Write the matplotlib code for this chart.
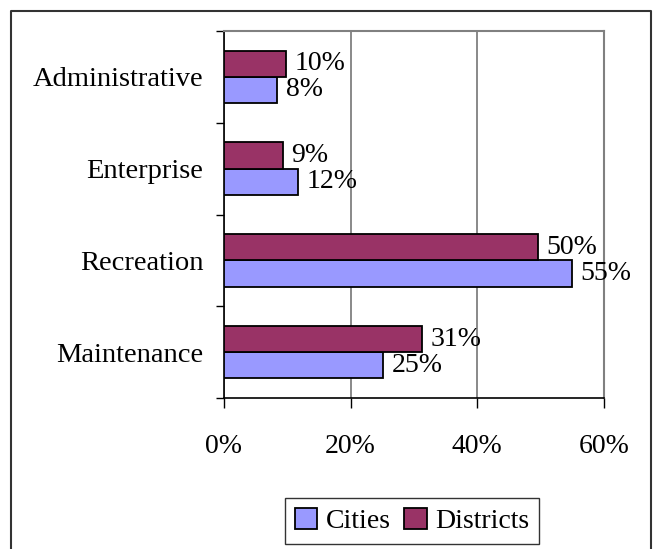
import numpy as np
import matplotlib.pyplot as plt
from matplotlib.lines import Line2D

plt.rcParams['font.family'] = ['Liberation Serif', 'DejaVu Serif']

categories = ["Maintenance", "Recreation", "Enterprise", "Administrative"]
cities = [25.1, 54.9, 11.7, 8.4]
districts = [31.3, 49.6, 9.3, 9.8]
xticks = [0, 20, 40, 60]

cities_color = "#9999FF"
districts_color = "#993366"

fig = plt.figure(figsize=(6.53, 5.49), dpi=100)
ax = fig.add_axes([0.343, 0.275, 0.582, 0.6685])

y = np.arange(len(categories))
h = 0.285
b1 = ax.barh(y - h / 2, cities, height=h, color=cities_color,
             edgecolor="black", linewidth=1.3, label="Cities", zorder=3)
b2 = ax.barh(y + h / 2, districts, height=h, color=districts_color,
             edgecolor="black", linewidth=1.3, label="Districts", zorder=3)

for bars, vals in [(b1, cities), (b2, districts)]:
    for bar, v in zip(bars, vals):
        ax.annotate(f"{v:.0f}%", (bar.get_width(), bar.get_y() + bar.get_height() / 2),
                    xytext=(6, 0), textcoords="offset points",
                    ha="left", va="center", fontsize=20, zorder=4)

ax.set_xlim(0, 60)
ax.set_ylim(-0.5, len(categories) - 0.5)
ax.set_xticks(xticks)
ax.set_xticklabels([f"{t}%" for t in xticks])
ax.set_yticks(np.arange(-0.5, len(categories), 1.0), minor=False)
ax.set_yticklabels([])
ax.set_yticks(y, minor=True)
ax.set_yticklabels(categories, minor=True)
ax.tick_params(axis="y", which="major", direction="out", length=6, width=1)
ax.tick_params(axis="y", which="minor", length=0, pad=15, labelsize=20.5)
ax.tick_params(axis="x", direction="out", length=7, width=1, pad=19, labelsize=20)

ax.xaxis.grid(True, color="#808080", linewidth=1.3, zorder=0)
ax.spines["top"].set_color("#808080")
ax.spines["right"].set_color("#808080")
ax.spines["top"].set_linewidth(1.5)
ax.spines["right"].set_linewidth(1.5)
ax.spines["left"].set_linewidth(1.2)
ax.spines["bottom"].set_linewidth(1.2)

leg = fig.legend(handles=[b1, b2], labels=["Cities", "Districts"],
                 loc="center", bbox_to_anchor=(0.631, 0.051), ncol=2,
                 fontsize=20, frameon=True, fancybox=False,
                 handlelength=0.8, handleheight=0.8, handletextpad=0.3,
                 columnspacing=0.5, borderpad=0.35, borderaxespad=0)
leg.get_frame().set_edgecolor("black")
leg.get_frame().set_linewidth(1.0)

# outer chart frame (open at bottom)
fig.add_artist(Line2D([11 / 653, 11 / 653, 651 / 653, 651 / 653],
                      [0, 1 - 11 / 549, 1 - 11 / 549, 0],
                      transform=fig.transFigure, color="#333333", linewidth=1.5))

fig.savefig("out.png", dpi=100)
